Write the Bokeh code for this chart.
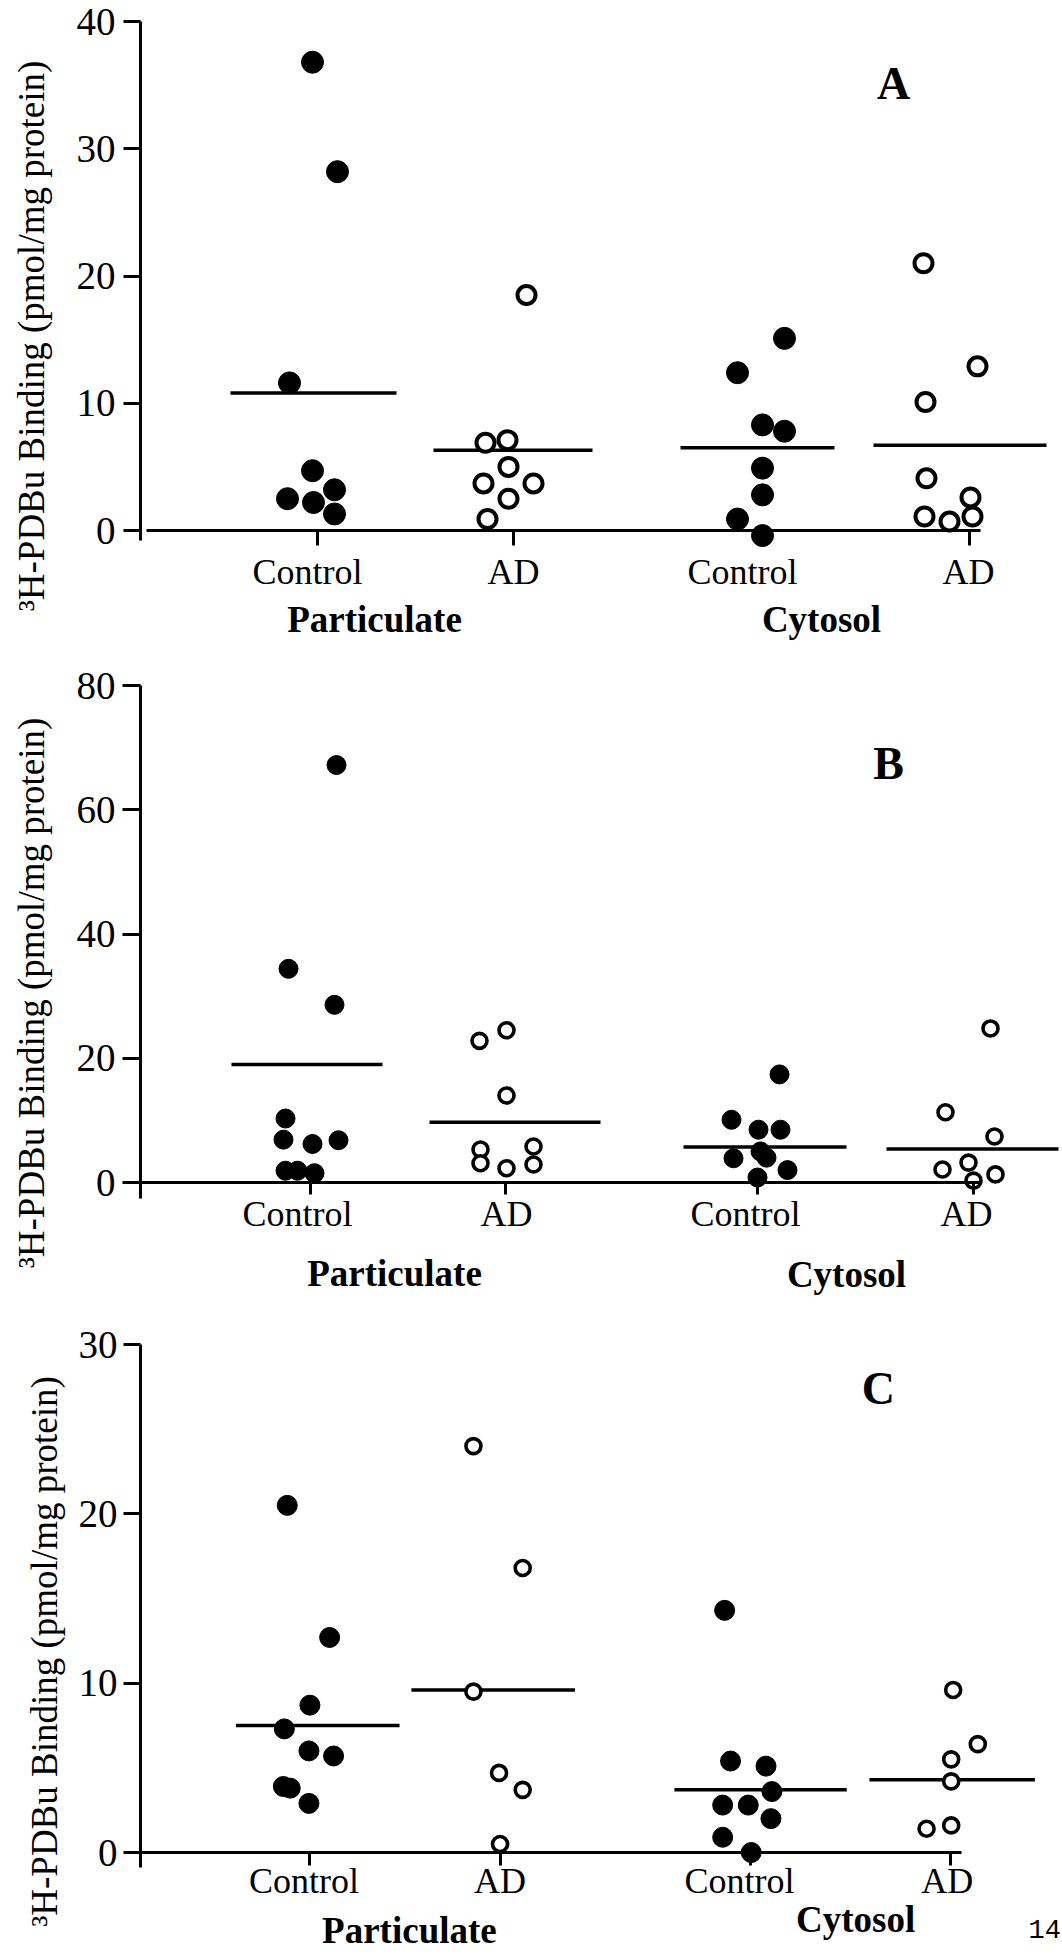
import math
from bokeh.plotting import figure
from bokeh.models import Range1d, FixedTicker, Label
from bokeh.layouts import column
from bokeh.embed import file_html
from bokeh.resources import INLINE

# ---------------- data ----------------
group_labels = ["Control", "AD", "Control", "AD"]
fraction_labels = ["Particulate", "Cytosol"]
panel_letters = ["A", "B", "C"]
y_axis_label = "\u00b3H-PDBu Binding (pmol/mg protein)"
page_number = "14"

a_y_ticks = [0, 10, 20, 30, 40]
b_y_ticks = [0, 20, 40, 60, 80]
c_y_ticks = [0, 10, 20, 30]

# Panel A  (values; horizontal jitter of each dot in px)
a_ctrl_part = [36.8, 28.2, 11.6, 4.7, 3.2, 2.5, 2.2, 1.3]
a_ctrl_part_jit = [-5, 20, -28, -5, 17, -30, -4, 17]
a_ad_part = [18.5, 7.1, 6.9, 5.0, 3.7, 3.7, 2.5, 0.9]
a_ad_part_jit = [13, -6, -28, -5, -30, 20, -5, -26]
a_ctrl_cyto = [15.1, 12.4, 8.3, 7.8, 4.9, 2.8, 0.9, -0.4]
a_ctrl_cyto_jit = [22, -25, 0, 22, 0, 0, -25, 0]
a_ad_cyto = [21.0, 12.9, 10.1, 4.1, 2.6, 1.1, 0.7, 1.1]
a_ad_cyto_jit = [-46, 8, -44, -43, 1, -45, -20, 3]
a_means = [10.8, 6.3, 6.5, 6.7]

# Panel B
b_ctrl_part = [67.2, 34.4, 28.6, 10.3, 6.9, 6.2, 6.8, 1.9, 1.9, 1.5]
b_ctrl_part_jit = [26, -22, 24, -25, -27, 2, 28, -25, -13, 4]
b_ad_part = [24.5, 22.8, 14.0, 5.8, 5.3, 3.1, 2.9, 2.3]
b_ad_part_jit = [1, -26, 1, 28, -25, -25, 28, 1]
b_ctrl_cyto = [17.4, 10.1, 8.5, 8.5, 5.0, 4.0, 3.9, 2.0, 0.8]
b_ctrl_cyto_jit = [22, -26, 1, 23, 3, 9, -24, 30, 0]
b_ad_cyto = [24.8, 11.3, 7.4, 3.2, 2.1, 1.3, 0.3]
b_ad_cyto_jit = [17, -28, 21, -5, -31, 22, 0]
b_means = [19.0, 9.7, 5.7, 5.4]

# Panel C
c_ctrl_part = [20.5, 12.7, 8.7, 7.3, 6.0, 5.7, 3.9, 3.8, 2.9]
c_ctrl_part_jit = [-23, 20, 0, -26, -1, 24, -27, -20, -1]
c_ad_part = [24.0, 16.8, 9.5, 4.7, 3.7, 0.5]
c_ad_part_jit = [-27, 23, -27, -1, 23, 0]
c_ctrl_cyto = [14.3, 5.4, 5.1, 3.6, 2.8, 2.8, 2.0, 0.9, 0.0]
c_ctrl_cyto_jit = [-26, -20, 16, 22, -28, -2, 21, -28, 1]
c_ad_cyto = [9.6, 6.4, 5.5, 4.2, 1.6, 1.4]
c_ad_cyto_jit = [3, 28, 1, 1, 1, -24]
c_means = [7.5, 9.6, 3.7, 4.3]

# ---------------- layout / style ----------------
W = 1062
SERIF = "Liberation Serif"

panels = [
    dict(height=650, offset=0, left=140, zero=530, top=21, bottom=540,
         xbounds=(146, 980), cat_x=[317, 513, 762, 969], y_ticks=a_y_ticks,
         label_x=[307, 513, 742, 968], label_y=571,
         series=[(a_ctrl_part, a_ctrl_part_jit), (a_ad_part, a_ad_part_jit),
                 (a_ctrl_cyto, a_ctrl_cyto_jit), (a_ad_cyto, a_ad_cyto_jit)],
         means=a_means, mean_x0=[230, 433, 680, 873], mean_x1=[396, 592, 834, 1046],
         letter=panel_letters[0], letter_pos=(893, 83),
         frac_pos=[(374, 619), (821, 619)],
         tick_size="39px", ytick_out=17, ylab_standoff=8, axlab_standoff=22,
         xtick_out=15, dot=22, ring=18, ring_w=4.0),
    dict(height=650, offset=650, left=140, zero=532, top=35, bottom=548,
         xbounds=(140, 980), cat_x=[310, 505, 757, 973], y_ticks=b_y_ticks,
         label_x=[297, 506, 745, 966], label_y=1213,
         series=[(b_ctrl_part, b_ctrl_part_jit), (b_ad_part, b_ad_part_jit),
                 (b_ctrl_cyto, b_ctrl_cyto_jit), (b_ad_cyto, b_ad_cyto_jit)],
         means=b_means, mean_x0=[231, 429, 683, 886], mean_x1=[382, 600, 846, 1058],
         letter=panel_letters[1], letter_pos=(888, 763),
         frac_pos=[(394, 1273), (846, 1274)],
         tick_size="39px", ytick_out=18, ylab_standoff=7, axlab_standoff=22,
         xtick_out=12, dot=19, ring=15, ring_w=3.6),
    dict(height=658, offset=1300, left=126, zero=552, top=44, bottom=567,
         xbounds=(126, 959), cat_x=[298, 491, 745, 948], y_ticks=c_y_ticks,
         label_x=[292, 491, 734, 945], label_y=1880,
         series=[(c_ctrl_part, c_ctrl_part_jit), (c_ad_part, c_ad_part_jit),
                 (c_ctrl_cyto, c_ctrl_cyto_jit), (c_ad_cyto, c_ad_cyto_jit)],
         means=c_means, mean_x0=[223, 401, 668, 866], mean_x1=[389, 567, 843, 1034],
         letter=panel_letters[2], letter_pos=(875, 1388),
         frac_pos=[(399, 1930), (852, 1919)],
         tick_size="39px", ytick_out=17, ylab_standoff=6, axlab_standoff=11,
         xtick_out=13, dot=20, ring=15, ring_w=3.6),
]


def make_panel(cfg, is_last):
    ppu = (cfg["zero"] - cfg["top"]) / cfg["y_ticks"][-1]
    y_top = cfg["y_ticks"][-1]
    y_axis_bot = -(cfg["bottom"] - cfg["zero"]) / ppu
    y_min = -(cfg["height"] - cfg["zero"]) / ppu

    def ydata(global_y):
        return (cfg["zero"] - (global_y - cfg["offset"])) / ppu

    p = figure(width=W, height=cfg["height"],
               x_range=Range1d(cfg["left"], W), y_range=Range1d(y_min, y_top),
               output_backend="svg", toolbar_location=None,
               min_border_left=cfg["left"], min_border_right=0,
               min_border_top=cfg["top"], min_border_bottom=0)
    p.outline_line_color = None
    p.grid.visible = False
    p.background_fill_color = "white"
    p.border_fill_color = "white"

    # y axis (line limited to the drawn span)
    ya = p.yaxis[0]
    ya.bounds = (y_axis_bot, y_top)
    ya.ticker = FixedTicker(ticks=cfg["y_ticks"])
    ya.axis_line_width = 3
    ya.axis_line_color = "black"
    ya.major_tick_line_width = 3
    ya.major_tick_line_color = "black"
    ya.major_tick_out = cfg["ytick_out"]
    ya.major_tick_in = 0
    ya.minor_tick_line_color = None
    ya.major_label_text_font = SERIF
    ya.major_label_text_font_size = cfg["tick_size"]
    ya.major_label_text_color = "black"
    ya.major_label_standoff = cfg["ylab_standoff"]
    ya.axis_label = y_axis_label
    ya.axis_label_text_font = SERIF
    ya.axis_label_text_font_size = "37px"
    ya.axis_label_text_font_style = "normal"
    ya.axis_label_text_color = "black"
    ya.axis_label_standoff = cfg["axlab_standoff"]

    # x axis drawn along zero (tick marks only; names are placed as labels)
    xa = p.xaxis[0]
    xa.fixed_location = 0
    xa.bounds = cfg["xbounds"]
    xa.ticker = FixedTicker(ticks=cfg["cat_x"])
    xa.major_label_overrides = {x: "" for x in cfg["cat_x"]}
    xa.axis_line_width = 3
    xa.axis_line_color = "black"
    xa.major_tick_line_width = 3
    xa.major_tick_line_color = "black"
    xa.major_tick_out = cfg["xtick_out"]
    xa.major_tick_in = 0
    xa.minor_tick_line_color = None

    for lx, txt in zip(cfg["label_x"], group_labels):
        p.add_layout(Label(x=lx, y=ydata(cfg["label_y"]), text=txt, text_font=SERIF,
                           text_font_size="36px", text_color="black",
                           text_align="center", text_baseline="middle"))

    # mean lines
    p.segment(x0=cfg["mean_x0"], y0=cfg["means"], x1=cfg["mean_x1"], y1=cfg["means"],
              line_width=3.5, line_color="black")

    # dots
    for i, (vals, jit) in enumerate(cfg["series"]):
        xs = [cfg["cat_x"][i] + j for j in jit]
        if i % 2 == 0:
            p.scatter(xs, vals, marker="circle", size=cfg["dot"],
                      fill_color="black", line_color="black", line_width=1)
        else:
            p.scatter(xs, vals, marker="circle", size=cfg["ring"],
                      fill_color="white", line_color="black", line_width=cfg["ring_w"])

    # panel letter
    lx, ly = cfg["letter_pos"]
    p.add_layout(Label(x=lx, y=ydata(ly), text=cfg["letter"], text_font=SERIF,
                       text_font_style="bold", text_font_size="46px", text_color="black",
                       text_align="center", text_baseline="middle"))
    # fraction labels
    for (fx, fy), txt in zip(cfg["frac_pos"], fraction_labels):
        p.add_layout(Label(x=fx, y=ydata(fy), text=txt, text_font=SERIF,
                           text_font_style="bold", text_font_size="37px", text_color="black",
                           text_align="center", text_baseline="middle"))
    if is_last:
        p.add_layout(Label(x=1044, y=ydata(1928), text=page_number,
                           text_font="Liberation Mono", text_font_size="27px",
                           text_color="black", text_align="center", text_baseline="middle"))
    return p


figs = [make_panel(cfg, k == len(panels) - 1) for k, cfg in enumerate(panels)]
layout = column(*figs, spacing=0)

open("out.html", "w").write(file_html(layout, INLINE))
